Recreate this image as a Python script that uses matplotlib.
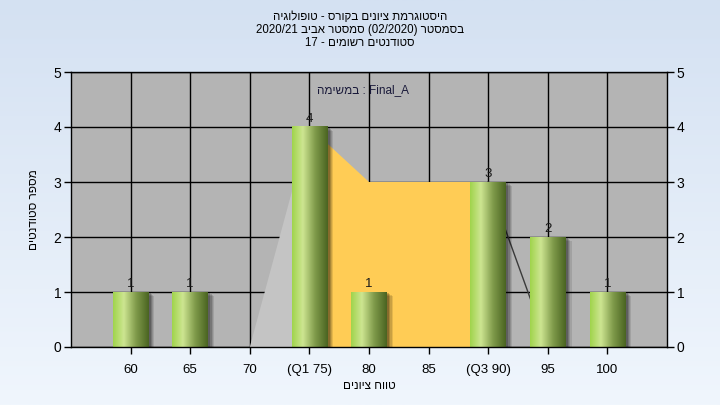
import re
import numpy as np
import matplotlib
matplotlib.use("Agg")
import matplotlib.pyplot as plt
from matplotlib.patches import Rectangle, Polygon
from matplotlib.colors import LinearSegmentedColormap
import matplotlib.transforms as mtrans

plt.rcParams['font.family'] = ['Liberation Sans', 'DejaVu Sans']

# ---------------- data ----------------
tick_labels = ["60", "65", "70", "(Q1 75)", "80", "85", "(Q3 90)", "95", "100"]
counts = [1, 1, 0, 4, 1, 0, 3, 2, 1]
# background area series (values at category positions)
gray_area_x = [2, 3]          # 70 -> 75
gray_area_y = [0, 4]
orange_x = [3, 4, 5, 6]       # 75 -> 90
orange_y = [4, 3, 3, 3]
line_x = [6, 7]               # 90 -> 95
line_y = [3, 0]

title_lines = ["היסטוגרמת ציונים בקורס - טופולוגיה",
               "בסמסטר (02/2020) סמסטר אביב 2020/21",
               "סטודנטים רשומים - 17"]
legend_text = "Final_A : במשימה"
xlabel = "טווח ציונים"
ylabel = "מספר סטודנטים"


def visual(s):
    """Simple RTL -> visual order conversion for display."""
    r = s[::-1]
    r = re.sub(r'[0-9A-Za-z_/.]+', lambda m: m.group(0)[::-1], r)
    r = r.translate(str.maketrans({'(': ')', ')': '('}))
    return r


W, H = 720, 405
fig = plt.figure(figsize=(W / 100, H / 100), dpi=100)

# figure background gradient
bg = fig.add_axes([0, 0, 1, 1], zorder=-10)
grad = np.linspace(0, 1, 256)[:, None]
bg_cmap = LinearSegmentedColormap.from_list("bg", ["#d4e1f2", "#f0f6fd"])
bg.imshow(grad, aspect='auto', cmap=bg_cmap, extent=(0, 1, 0, 1))
bg.set_axis_off()

ax = fig.add_axes([71 / W, 1 - 347 / H, (667 - 71) / W, (347 - 72) / H])
ax.set_facecolor("#b4b4b4")
ax.set_xlim(-1, 9)
ax.set_ylim(0, 5)

# grid
for yv in range(0, 6):
    ax.axhline(yv, color="black", lw=1, zorder=1)
for xv in range(len(tick_labels)):
    ax.axvline(xv, color="black", lw=1, zorder=1)

# areas
ax.add_patch(Polygon([(gray_area_x[0], 0)] + list(zip(gray_area_x, gray_area_y)) + [(gray_area_x[-1], 0)],
                     closed=True, facecolor="#c4c4c4", edgecolor="none", zorder=2))
ax.add_patch(Polygon([(orange_x[0], 0)] + list(zip(orange_x, orange_y)) + [(orange_x[-1], 0)],
                     closed=True, facecolor="#ffcc55", edgecolor="none", zorder=2))
ax.plot(line_x, line_y, color="#3a3a3a", lw=1, zorder=2)

# bars with cylinder gradient and shadow
bar_w = 0.6
gcols = [(0.0, "#a0d44c"), (0.3, "#cde591"), (0.65, "#7f9a4a"), (1.0, "#4a6421")]
bar_cmap = LinearSegmentedColormap.from_list("bar", gcols)
gimg = np.linspace(0, 1, 128)[None, :]
for i, v in enumerate(counts):
    if v <= 0:
        continue
    x0 = i - bar_w / 2
    # shadow
    for k, a in enumerate([0.10, 0.12, 0.16, 0.2]):
        off = 6 - k * 1.2
        tr = mtrans.offset_copy(ax.transData, fig=fig, x=off, y=-off * 0.6, units='dots')
        ax.add_patch(Rectangle((x0, 0), bar_w, v, transform=tr, facecolor="black",
                               edgecolor="none", alpha=a, zorder=3))
    ax.imshow(gimg, aspect='auto', cmap=bar_cmap, extent=(x0, x0 + bar_w, 0, v),
              interpolation='bilinear', zorder=4)
    ax.text(i, v + 0.04, str(v), ha='center', va='bottom', fontsize=9.5,
            color="#1a1a1a", zorder=6)

ax.set_xlim(-1, 9)
ax.set_ylim(0, 5)

# ticks
ax.set_xticks(range(len(tick_labels)))
ax.set_xticklabels(tick_labels, fontsize=9.5)
ax.set_yticks(range(0, 6))
ax.tick_params(axis='y', left=True, right=True, labelleft=True, labelright=True,
               length=5, width=1, labelsize=10, pad=2, direction='out')
ax.tick_params(axis='x', length=5, width=1, pad=7, direction='out')
for sp in ax.spines.values():
    sp.set_color("black")
    sp.set_linewidth(1)
    sp.set_zorder(7)

ax.set_xlabel(visual(xlabel), fontsize=8.5, labelpad=3)
ax.set_ylabel(visual(ylabel), fontsize=8.5, labelpad=10)

# legend-like text
ax.text(0.49, 0.955, visual(legend_text), transform=ax.transAxes, ha='center', va='top',
        fontsize=8.5, color="#1a1a3a", zorder=8)

# title
for j, line in enumerate(title_lines):
    fig.text(0.5, 1 - (17 + 13 * j) / H, visual(line), ha='center', va='center', fontsize=8.3)

fig.savefig("out.png", dpi=100)
